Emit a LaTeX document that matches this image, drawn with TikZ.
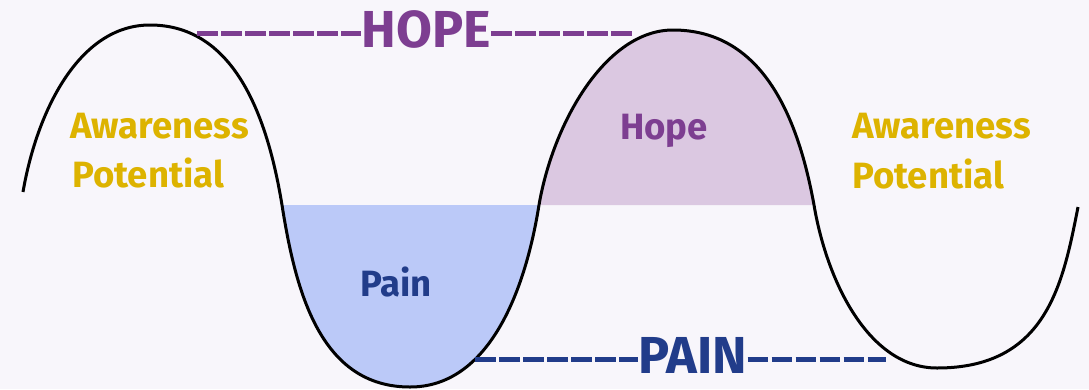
\documentclass[tikz,border=0pt]{standalone}
\usepackage{fontspec}
\setmainfont{Fira Sans}
\definecolor{bgcol}{HTML}{F8F6FB}
\definecolor{aware}{HTML}{DDB300}
\definecolor{hopecol}{HTML}{7D3E91}
\definecolor{hopefill}{HTML}{DBC8E1}
\definecolor{paincol}{HTML}{213C8A}
\definecolor{painfill}{HTML}{BBC9F8}
\begin{document}
\begin{tikzpicture}[x=0.025cm, y=-0.025cm,
  label/.style={inner sep=0pt, font=\bfseries\fontsize{26pt}{32pt}\selectfont},
  big/.style={inner sep=0pt, font=\bfseries\fontsize{37pt}{44pt}\selectfont},
  dashline/.style={line width=0.125cm, dash pattern=on 0.52cm off 0.08cm}]
\fill[bgcol] (0,0) rectangle (1089,389);
\useasboundingbox (0,0) rectangle (1089,389);

% points of the wave
\coordinate (s) at (23,192);
\coordinate (p1) at (150,25);
\coordinate (x1) at (282,205);
\coordinate (t1) at (410,387);
\coordinate (x2) at (539,205);
\coordinate (p2) at (673,30);
\coordinate (x3) at (814,205);
\coordinate (t2) at (937,368);
\coordinate (e) at (1078,207);

% shaded areas
\fill[painfill] (x1) .. controls +(13.6,86) and +(-90,0) .. (t1)
  .. controls +(79,0) and +(-13.7,85.9) .. (x2) -- cycle;
\fill[hopefill] (x2) .. controls +(14.2,-82.6) and +(-67,0) .. (p2)
  .. controls +(92,0) and +(-15,-82.6) .. (x3) -- cycle;

% the wave
\draw[line width=0.075cm] (s) .. controls +(13.5,-78.8) and +(-72,0) .. (p1)
  .. controls +(86,0) and +(-14,-85) .. (x1)
  .. controls +(13.6,86) and +(-90,0) .. (t1)
  .. controls +(79,0) and +(-13.7,85.9) .. (x2)
  .. controls +(14.2,-82.6) and +(-67,0) .. (p2)
  .. controls +(92,0) and +(-15,-82.6) .. (x3)
  .. controls +(13,77) and +(-68,0) .. (t2)
  .. controls +(110,0) and +(-15,76) .. (e);

% labels
\node[label, text=aware, anchor=base west] (awareA) at (70,138) {Awareness};
\node[label, text=aware, anchor=base west] (potA) at (72,187) {Potential};
\node[label, text=aware, anchor=base west] (awareB) at (852,138) {Awareness};
\node[label, text=aware, anchor=base west] (potB) at (852,188) {Potential};
\node[label, text=hopecol, anchor=base west] (hopetxt) at (620,139) {Hope};
\node[label, text=paincol, anchor=base west] (paintxt) at (360,296) {Pain};

% HOPE / PAIN lines
\node[big, text=hopecol, anchor=base] (hopeword) at (426,47) {HOPE};
\node[big, text=paincol, anchor=base] (painword) at (693,373) {PAIN};
\coordinate (hopeL) at (197,33);
\coordinate (hopeR) at (632,33);
\coordinate (painL) at (475,359);
\coordinate (painR) at (886,359);
\draw[dashline, hopecol] (hopeL) -- (hopeL -| hopeword.west);
\draw[dashline, hopecol] (hopeR -| hopeword.east) -- (hopeR);
\draw[dashline, paincol] (painL) -- (painL -| painword.west);
\draw[dashline, paincol] (painR -| painword.east) -- (painR);
\end{tikzpicture}
\end{document}
